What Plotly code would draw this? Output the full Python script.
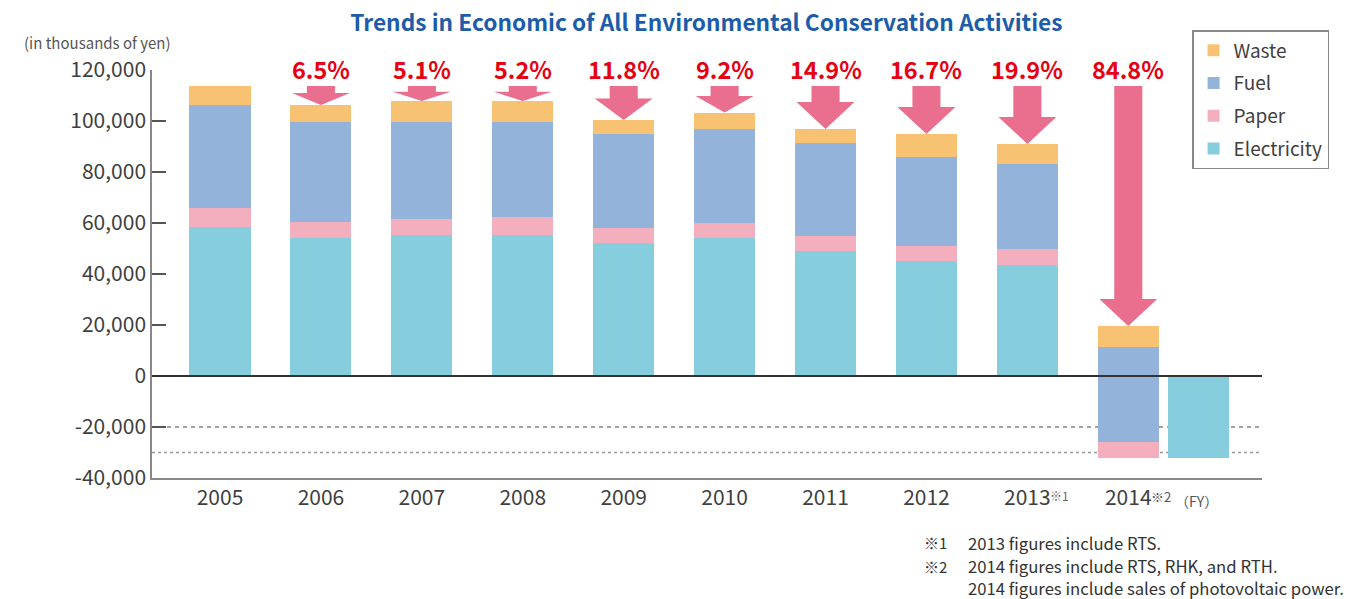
import plotly.graph_objects as go
import numpy as np

# ---------------- data (thousands of yen) ----------------
years = ["2005", "2006", "2007", "2008", "2009", "2010", "2011", "2012", "2013", "2014"]
electricity = [58.4, 54.1, 55.3, 55.3, 52.2, 54.0, 49.0, 45.2, 43.6, -32.0]
paper = [7.5, 6.3, 6.3, 7.1, 6.0, 6.0, 5.9, 5.8, 6.2, 6.1]
fuel = [40.4, 39.2, 38.0, 37.2, 36.7, 36.9, 36.5, 34.9, 33.3, 37.3]
waste = [7.4, 6.7, 8.2, 8.2, 5.5, 6.4, 5.5, 9.0, 7.9, 8.2]
reduction_labels = ["", "6.5%", "5.1%", "5.2%", "11.8%", "9.2%", "14.9%", "16.7%", "19.9%", "84.8%"]
y_ticks = [-40000, -20000, 0, 20000, 40000, 60000, 80000, 100000, 120000]
y_ticktext = ["-40,000", "-20,000", "0", "20,000", "40,000", "60,000", "80,000", "100,000", "120,000"]
ref_lines = [-20000, -30000]

# ---------------- derived ----------------
K = 1000.0
n = len(years)
xs = np.arange(n, dtype=float)
elec = np.array(electricity) * K
pap = np.array(paper) * K
fue = np.array(fuel) * K
was = np.array(waste) * K

# 2014: electricity drawn as its own bar beside the stacked bar,
# the stacked bar continues from electricity's value
elec_x = xs.copy()
elec_x[-1] = xs[-1] + 0.70
paper_base = elec.copy()
fuel_base = paper_base + pap
waste_base = fuel_base + fue
totals = waste_base + was

C_WASTE = "#f8c273"
C_FUEL = "#94b3db"
C_PAPER = "#f4afbe"
C_ELEC = "#86cedd"
C_ARROW = "#ea6e8e"
C_RED = "#e60012"
TXT = "#3f3f3f"
SANS = "Noto Sans CJK JP, Open Sans, sans-serif"

BW = 0.605
fig = go.Figure()
fig.add_trace(go.Bar(name="Electricity", x=elec_x, y=elec, base=0, width=BW, legendrank=4,
                     marker=dict(color=C_ELEC, line=dict(width=0)), legendgroup="e"))
fig.add_trace(go.Bar(name="Paper", x=xs, y=pap, base=paper_base, width=BW, legendrank=3,
                     marker=dict(color=C_PAPER, line=dict(width=0)), legendgroup="p"))
fig.add_trace(go.Bar(name="Fuel", x=xs, y=fue, base=fuel_base, width=BW, legendrank=2,
                     marker=dict(color=C_FUEL, line=dict(width=0)), legendgroup="f"))
fig.add_trace(go.Bar(name="Waste", x=xs, y=was, base=waste_base, width=BW, legendrank=1,
                     marker=dict(color=C_WASTE, line=dict(width=0)), legendgroup="w"))

shapes = []
# reference lines
shapes.append(dict(type="line", xref="paper", yref="y", x0=0.0135, x1=1, y0=ref_lines[0], y1=ref_lines[0],
                   line=dict(color="#444", width=1.2, dash="4px,4px"), layer="below"))
shapes.append(dict(type="line", xref="paper", yref="y", x0=0, x1=1, y0=ref_lines[1], y1=ref_lines[1],
                   line=dict(color="#999", width=1.5, dash="3px,3px"), layer="below"))
# zero line above bars
shapes.append(dict(type="line", xref="paper", yref="y", x0=0, x1=1, y0=0, y1=0,
                   line=dict(color="#333", width=2), layer="above"))

# reduction arrows from the 2005 level down to each year's total
ref_level = totals[0]
SW = 0.139   # shaft half width (x units)
HW = 0.287   # head half width
for i in range(1, n):
    x = xs[i]
    y0 = ref_level
    yt = totals[i]
    L = y0 - yt
    hh = min(0.63 * L, 10600.0)
    yh = yt + hh
    path = (f"M{x-SW},{y0} L{x+SW},{y0} L{x+SW},{yh} L{x+HW},{yh} "
            f"L{x},{yt} L{x-HW},{yh} L{x-SW},{yh} Z")
    shapes.append(dict(type="path", xref="x", yref="y", path=path,
                       fillcolor=C_ARROW, line=dict(width=0), layer="above"))

annotations = []
for i in range(1, n):
    annotations.append(dict(x=xs[i], y=ref_level, xref="x", yref="y", text=f"<b>{reduction_labels[i]}</b>",
                            showarrow=False, yanchor="bottom", yshift=-2,
                            font=dict(family=SANS, size=23.5, color=C_RED)))

# superscripts on tick labels
annotations.append(dict(x=xs[8], y=-40000, xref="x", yref="y", text="※1", showarrow=False,
                        xanchor="left", yanchor="top", xshift=21, yshift=-7,
                        font=dict(family=SANS, size=12, color="#666")))
annotations.append(dict(x=xs[9], y=-40000, xref="x", yref="y", text="※2", showarrow=False,
                        xanchor="left", yanchor="top", xshift=21, yshift=-7,
                        font=dict(family=SANS, size=13, color="#555")))
annotations.append(dict(x=xs[9], y=-40000, xref="x", yref="y", text="（FY）", showarrow=False,
                        xanchor="left", yanchor="top", xshift=45, yshift=-11,
                        font=dict(family=SANS, size=14, color="#555")))

# unit label
annotations.append(dict(x=-0.117, y=1.0686, xref="paper", yref="paper", text="(in thousands of yen)",
                        showarrow=False, xanchor="left", yanchor="middle",
                        font=dict(family=SANS, size=15, color="#555")))

# footnotes
foot_marks = ["※1", "※2", ""]
foot_texts = ["2013 figures include RTS.", "2014 figures include RTS, RHK, and RTH.",
              "2014 figures include sales of photovoltaic power."]
foot_y = [-0.159, -0.216, -0.270]
for m, t, yy in zip(foot_marks, foot_texts, foot_y):
    if m:
        annotations.append(dict(x=0.6937, y=yy, xref="paper", yref="paper", text=m, showarrow=False,
                                xanchor="left", yanchor="middle",
                                font=dict(family=SANS, size=15, color="#333")))
    annotations.append(dict(x=0.7333, y=yy, xref="paper", yref="paper", text=t, showarrow=False,
                            xanchor="left", yanchor="middle",
                            font=dict(family=SANS, size=16.7, color="#333")))

fig.update_layout(
    width=1361, height=599,
    margin=dict(l=152, r=99, t=70, b=121),
    paper_bgcolor="white", plot_bgcolor="white",
    barmode="overlay",
    bargap=0,
    title=dict(text="<b>Trends in Economic of All Environmental Conservation Activities</b>",
               x=0.519, xanchor="center", y=0.962, yanchor="middle",
               font=dict(family=SANS, size=22.7, color="#1c5ca8")),
    xaxis=dict(range=[-0.674, 10.325], tickvals=list(xs), ticktext=years,
               showgrid=False, zeroline=False, showline=True, linecolor="#888", linewidth=1.5,
               ticks="", tickfont=dict(family=SANS, size=21, color=TXT), fixedrange=True),
    yaxis=dict(range=[-40000, 120000], tickvals=y_ticks, ticktext=y_ticktext,
               showgrid=False, zeroline=False, showline=True, linecolor="#888", linewidth=1.5,
               ticks="inside", ticklen=14, tickwidth=1.5, tickcolor="#555",
               tickfont=dict(family=SANS, size=21, color=TXT), fixedrange=True),
    legend=dict(x=0.937, y=1.098, xanchor="left", yanchor="top", traceorder="grouped",
                tracegroupgap=5, bordercolor="#888", borderwidth=1.5, bgcolor="white",
                font=dict(family=SANS, size=19, color=TXT)),
    shapes=shapes,
    annotations=annotations,
    showlegend=True,
)

fig.write_html("out.html", config={"displayModeBar": False},
               post_script="document.body.style.margin='0';")
